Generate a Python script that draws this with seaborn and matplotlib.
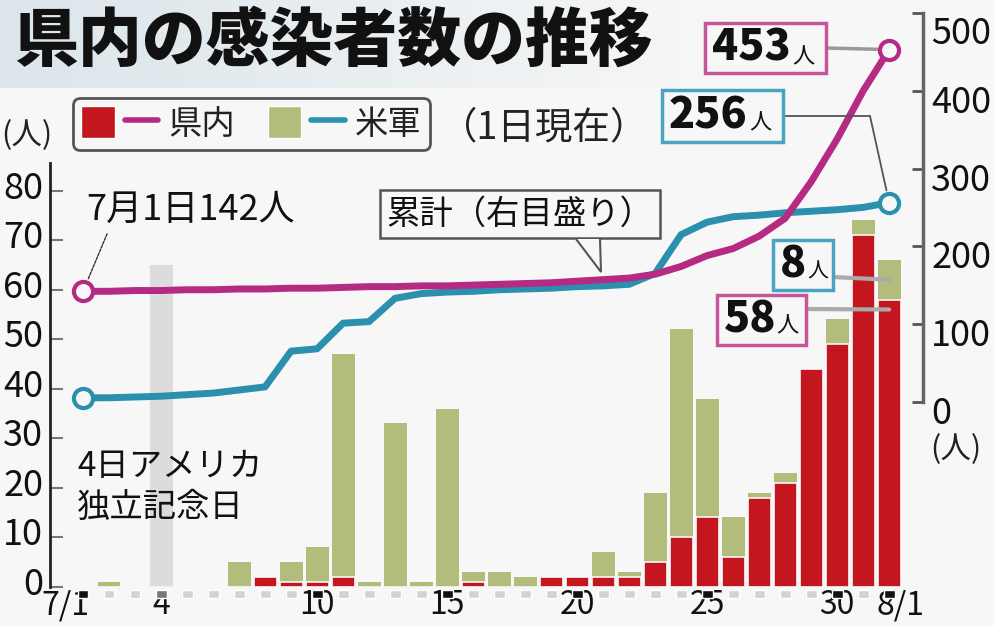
import numpy as np
import pandas as pd
import seaborn as sns
import matplotlib.pyplot as plt
from matplotlib.patches import Patch, Rectangle, Polygon
from matplotlib.lines import Line2D
from matplotlib.legend_handler import HandlerTuple
from matplotlib.transforms import ScaledTranslation

# Daily data, 7/1 .. 8/1
days = [f'7/{d}' for d in range(1, 32)] + ['8/1']
okinawa_daily = [0, 0, 0, 0, 0, 0, 0, 2, 1, 1,
                 2, 0, 0, 0, 0, 1, 0, 0, 2, 2,
                 2, 2, 5, 10, 14, 6, 18, 21, 44, 49,
                 71, 58]
usmil_daily = [0, 1, 0, 0, 0, 0, 5, 0, 4, 7,
               45, 1, 33, 1, 36, 2, 3, 2, 0, 0,
               5, 1, 14, 42, 24, 8, 1, 2, 0, 5,
               3, 8]
# Cumulative lines (right axis)
okinawa_total = [142, 142, 143, 143, 144, 144, 145, 145, 146, 146,
                 147, 148, 148, 149, 149, 150, 151, 152, 153, 155,
                 157, 159, 164, 174, 188, 197, 213, 236, 283, 338,
                 400, 453]
usmil_total = [5, 5, 6, 7, 9, 11, 15, 19, 65, 68,
               101, 103, 133, 139, 141, 142, 144, 145, 146, 148,
               149, 151, 165, 215, 231, 238, 240, 243, 245, 247,
               250, 256]
tick_days = ['7/1', '7/4', '7/10', '7/15', '7/20', '7/25', '7/30', '8/1']
tick_labels = ['7/1', '4', '10', '15', '20', '25', '30', '8/1']

RED = '#c3161f'
GREEN = '#b3bd7b'
MAGENTA = '#b52a82'
TEAL = '#2b8fae'
BG = '#f7f7f7'
W, H = 994, 626

df = pd.DataFrame({'day': days, 'pos': range(len(days)),
                   'okinawa': okinawa_daily, 'usmil': usmil_daily,
                   'okinawa_total': okinawa_total, 'usmil_total': usmil_total})
df['stack'] = df['okinawa'] + df['usmil']

sns.set_theme(style='white')
plt.rcParams['font.family'] = ['Noto Sans CJK JP', 'DejaVu Sans']


def px(x, y):
    # image pixel position -> figure fraction
    return (x / W, 1 - y / H)


fig = plt.figure(figsize=(W / 100, H / 100), dpi=100, facecolor=BG)

# light title band
band = fig.add_axes([0, 1 - 88 / H, 1, 88 / H], zorder=-1)
g = np.clip(np.linspace(0, 1.35, 400), 0, 1)
c0 = np.array([0.86, 0.90, 0.92])
c1 = np.array([0.97, 0.97, 0.97])
band.imshow((c0[None, :] * (1 - g[:, None]) + c1[None, :] * g[:, None])[None, :, :],
            aspect='auto', extent=[0, 1, 0, 1])
band.axis('off')

ax = fig.add_axes([50 / W, 1 - 586.7 / H, 873 / W, 573.7 / H])
ax.set_facecolor('none')

# 7/4 band
ax.axvspan(2.58, 3.46, ymin=0, ymax=0.56, color='#dcdcdc', lw=0, zorder=0)

# stacked bars: totals in green, Okinawa part in red on top
sns.barplot(data=df, x='day', y='stack', color=GREEN, saturation=1, width=0.88,
            edgecolor='none', ax=ax, zorder=2)
sns.barplot(data=df, x='day', y='okinawa', color=RED, saturation=1, width=0.88,
            edgecolor=BG, linewidth=1.2, ax=ax, zorder=3)

# small day markers under the bars
marker_colors = ['#111111' if d in tick_days else '#d3d3d3' for d in days]
marker_colors[days.index('7/4')] = '#777777'
ax.bar(df['pos'], -1.5, bottom=-0.7, width=0.42, color=marker_colors, clip_on=False, zorder=2)

ax.set_xlim(-1.27, 32.3)
ax.set_ylim(0, 115.9)
ax.set_xlabel('')
ax.set_ylabel('')
ax.set_yticks(range(0, 81, 10))
ax.set_xticks([days.index(d) for d in tick_days])
ax.set_xticklabels(tick_labels)
ax.tick_params(axis='x', length=0, labelsize=23, pad=2, colors='#111')
ax.tick_params(axis='y', direction='in', length=9, width=1.5, color='#777',
               labelsize=26, pad=5, labelcolor='#111')
for s in ['top', 'right', 'bottom']:
    ax.spines[s].set_visible(False)
ax.spines['left'].set_bounds(0, 85.5)
ax.spines['left'].set_color('#222')
ax.spines['left'].set_linewidth(2)

xl = ax.get_xticklabels()
xl[0].set_transform(xl[0].get_transform() + ScaledTranslation(-0.18, 0, fig.dpi_scale_trans))
xl[-1].set_transform(xl[-1].get_transform() + ScaledTranslation(0.11, 0, fig.dpi_scale_trans))
for lab in ax.get_yticklabels():
    lab.set_transform(lab.get_transform() + ScaledTranslation(0, 0.06, fig.dpi_scale_trans))

# cumulative lines on the right axis
ax2 = ax.twinx()
ax2.set_facecolor('none')
sns.lineplot(data=df, x='pos', y='usmil_total', color=TEAL, lw=5, ax=ax2,
             solid_capstyle='round', zorder=4)
sns.lineplot(data=df, x='pos', y='okinawa_total', color=MAGENTA, lw=5, ax=ax2,
             solid_capstyle='round', zorder=4)
ends = df.iloc[[0, -1]]
sns.scatterplot(data=ends, x='pos', y='usmil_total', s=190, color=BG, edgecolor=TEAL,
                linewidth=3, ax=ax2, zorder=6)
sns.scatterplot(data=ends, x='pos', y='okinawa_total', s=190, color=BG, edgecolor=MAGENTA,
                linewidth=3, ax=ax2, zorder=6)
ax2.set_ylim(-238.1, 500.1)
ax2.set_xlim(-1.27, 32.3)
ax2.set_xlabel('')
ax2.set_ylabel('')
ax2.set_yticks(range(0, 501, 100))
ax2.tick_params(axis='y', direction='in', length=8, width=2, color='#555',
                labelsize=26, pad=6, labelcolor='#111')
for s in ['top', 'left', 'bottom']:
    ax2.spines[s].set_visible(False)
ax2.spines['right'].set_bounds(0, 500)
ax2.spines['right'].set_color('#666')
ax2.spines['right'].set_linewidth(2.5)
rl = ax2.get_yticklabels()
for lab in rl:
    shift = -0.17 if lab.get_text() == '500' else -0.08
    lab.set_transform(lab.get_transform() + ScaledTranslation(0, shift, fig.dpi_scale_trans))

# legend
handles = [(Patch(fc=RED), Line2D([], [], color=MAGENTA, lw=4)),
           (Patch(fc=GREEN), Line2D([], [], color=TEAL, lw=4))]
leg = ax2.legend(handles=handles, labels=['県内', '米軍'], ncol=2,
                 handler_map={tuple: HandlerTuple(ndivide=None, pad=0.3)},
                 loc='upper left', bbox_to_anchor=px(73, 98), bbox_transform=fig.transFigure,
                 fontsize=24, frameon=True, fancybox=True, edgecolor='#555', facecolor=BG,
                 framealpha=1, handlelength=2.3, handleheight=1.1, handletextpad=0.3,
                 columnspacing=1.0, borderpad=0.25, borderaxespad=0)
leg.get_frame().set_linewidth(2)
for t in leg.get_texts():
    t.set_color('#222')

# titles and labels
fig.text(*px(14, 42), '県内の感染者数の推移', fontsize=46, weight='black', va='center', color='#111')
fig.text(*px(440, 128), '（1日現在）', fontsize=27, va='center', color='#222')
fig.text(*px(1, 136), '(人)', fontsize=22, va='center', color='#222')
fig.text(*px(930, 450), '(人)', fontsize=22, va='center', color='#222')
fig.text(*px(77, 487), '4日アメリカ\n独立記念日', fontsize=24, va='center',
         linespacing=1.25, color='#111')

ax2.annotate('7月1日142人', xy=(0, okinawa_total[0]), xytext=px(86, 210),
             textcoords='figure fraction', va='center', ha='left', fontsize=26, color='#111',
             arrowprops=dict(arrowstyle='-', color='#333', lw=1, ls=(0, (2, 1)),
                             relpos=(0.12, 0.1), shrinkA=2, shrinkB=9))
ax2.annotate('累計（右目盛り）', xy=(19.9, okinawa_total[20] + 9), xytext=px(520, 214),
             textcoords='figure fraction', va='center', ha='center', fontsize=24, color='#111',
             bbox=dict(boxstyle='square,pad=0.2', fc=BG, ec='#555', lw=1.8), zorder=7)
# speech-bubble tail of the 累計 box
fig.add_artist(Polygon([px(576, 239), px(601, 272), px(600, 239)], closed=False,
                       transform=fig.transFigure, fc=BG, ec='#555', lw=1.5, zorder=8))


def value_box(x0, y0, x1, y1, number, edge):
    fig.add_artist(Rectangle(px(x0, y1), (x1 - x0) / W, (y1 - y0) / H,
                             transform=fig.transFigure, fc=BG, ec=edge, lw=2.5, zorder=8))
    t = fig.text(*px(x0 + 7, (y0 + y1) / 2), number, fontsize=31, weight='black',
                 va='center', color='#111', zorder=9)
    return t


value_box(705, 23, 826, 73, '453', '#c4579a')
fig.text(*px(792, 57), '人', fontsize=16, va='center', color='#111', zorder=9)
value_box(662, 90, 783, 142, '256', '#4aa3bf')
fig.text(*px(749, 123), '人', fontsize=16, va='center', color='#111', zorder=9)
value_box(773, 240, 833, 290, '8', '#4aa3bf')
fig.text(*px(807, 272), '人', fontsize=15, va='center', color='#111', zorder=9)
value_box(717, 295, 806, 345, '58', '#c4579a')
fig.text(*px(776, 326), '人', fontsize=16, va='center', color='#111', zorder=9)

# leader lines
ax2.annotate('', xy=(31, okinawa_total[-1]), xytext=px(826, 48), textcoords='figure fraction',
             arrowprops=dict(arrowstyle='-', color='#999', lw=2.5, shrinkA=0, shrinkB=9))
fig.add_artist(Line2D([783 / W, 870 / W], [1 - 116 / H, 1 - 116 / H], color='#555', lw=1.3,
                      transform=fig.transFigure, zorder=4))
ax2.annotate('', xy=(31, usmil_total[-1]), xytext=px(870, 116), textcoords='figure fraction',
             arrowprops=dict(arrowstyle='-', color='#555', lw=1.3, shrinkA=0, shrinkB=9))
ax.annotate('', xy=(31, okinawa_daily[-1] + usmil_daily[-1] / 2), xytext=px(833, 277),
            textcoords='figure fraction',
            arrowprops=dict(arrowstyle='-', color='#aaa', lw=3, shrinkA=0, shrinkB=0))
ax.annotate('', xy=(31, okinawa_daily[-1] - 2), xytext=px(806, 309),
            textcoords='figure fraction',
            arrowprops=dict(arrowstyle='-', color='#aaa', lw=3, shrinkA=0, shrinkB=0))

fig.savefig('out.png', dpi=100, facecolor=BG)
